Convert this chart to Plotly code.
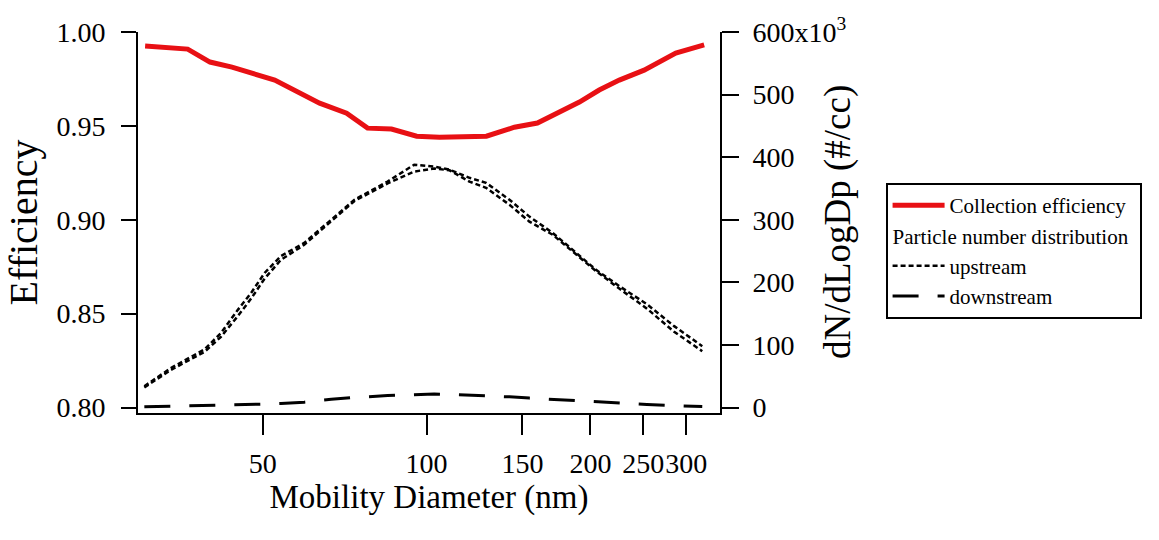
import plotly.graph_objects as go

# Collection efficiency vs mobility diameter
eff_dp = [30.4, 36.4, 40.0, 43.9, 52.6, 63.6, 71.3, 77.9, 86.2, 95.9, 105.6,
          128.8, 145.0, 159.8, 190.9, 207.6, 226.0, 251.0, 287.0, 323.6]
eff_val = [0.9925, 0.9909, 0.9840, 0.9813, 0.9744, 0.9621, 0.9568, 0.9488,
           0.9483, 0.9445, 0.9440, 0.9445, 0.9493, 0.9515, 0.9627, 0.9691,
           0.9744, 0.9797, 0.9888, 0.9931]

# Particle number size distributions (dN/dLogDp, #/cc)
size_dp = [30.3, 33.9, 39.1, 41.9, 45.0, 47.6, 50.4, 54.0, 59.6, 66.8, 73.7,
           84.8, 94.9, 103.3, 110.2, 119.9, 128.6, 142.0, 154.5, 170.5, 188.2,
           204.8, 226.0, 254.0, 285.0, 321.0]
upstream_a = [34e3, 63e3, 93e3, 119e3, 156e3, 183e3, 215e3, 242e3, 263e3,
              300e3, 332e3, 361e3, 388e3, 385e3, 380e3, 367e3, 359e3, 332e3,
              305e3, 279e3, 247e3, 220e3, 194e3, 165e3, 130e3, 98e3]
upstream_b = [32e3, 60e3, 89e3, 113e3, 146e3, 174e3, 206e3, 236e3, 260e3,
              297e3, 330e3, 358e3, 377e3, 382e3, 379e3, 361e3, 351e3, 324e3,
              297e3, 276e3, 245e3, 218e3, 190e3, 158e3, 121e3, 90e3]
downstream = [1.0e3, 1.8e3, 3.0e3, 3.6e3, 4.3e3, 4.8e3, 5.5e3, 6.5e3, 8.5e3,
              13e3, 16e3, 19e3, 21e3, 21.5e3, 21e3, 20e3, 19e3, 17e3, 15e3,
              13e3, 10.5e3, 8.5e3, 7e3, 4.8e3, 3e3, 1.5e3]

x_ticks = [50, 100, 150, 200, 250, 300]
x_ticktext = ["50", "100", "150", "200", "250", "300"]
eff_ticks = [0.80, 0.85, 0.90, 0.95, 1.00]
eff_ticktext = ["0.80", "0.85", "0.90", "0.95", "1.00"]
n_ticks = [0, 100e3, 200e3, 300e3, 400e3, 500e3, 600e3]
n_ticktext = ["0", "100", "200", "300", "400", "500", "600x10<sup>3</sup>"]

FONT = "Liberation Serif"
RED = "rgb(232,16,20)"

fig = go.Figure()

fig.add_trace(go.Scatter(
    x=eff_dp, y=eff_val, mode="lines", name="Collection efficiency",
    line=dict(color=RED, width=5), legendgroup="eff", yaxis="y"))

fig.add_trace(go.Scatter(
    x=size_dp, y=upstream_a, mode="lines", name="upstream",
    line=dict(color="black", width=2.5, dash="5px,3px"),
    legendgroup="pnd",
    legendgrouptitle=dict(text="Particle number distribution",
                          font=dict(family=FONT, size=21, color="black")),
    yaxis="y2"))
fig.add_trace(go.Scatter(
    x=size_dp, y=upstream_b, mode="lines", name="upstream",
    line=dict(color="black", width=2.5, dash="5px,3px"),
    legendgroup="pnd", showlegend=False, yaxis="y2"))
fig.add_trace(go.Scatter(
    x=size_dp, y=downstream, mode="lines", name="downstream",
    line=dict(color="black", width=3, dash="26px,19px"),
    legendgroup="pnd", yaxis="y2"))

axis_common = dict(showgrid=False, zeroline=False, showline=True,
                   linecolor="black", linewidth=2, ticks="outside",
                   tickcolor="black", tickwidth=2,
                   tickfont=dict(family=FONT, size=28, color="black"))

fig.update_layout(
    width=1159, height=540,
    margin=dict(l=138, r=439, t=32, b=127),
    paper_bgcolor="white", plot_bgcolor="white",
    font=dict(family=FONT, color="black"),
    showlegend=True,
    xaxis=dict(type="log", range=[1.4698, 2.5391],
               tickvals=x_ticks, ticktext=x_ticktext, ticklen=20,
               tickangle=0, ticklabelstandoff=4,
               title=dict(text="Mobility Diameter (nm)",
                          font=dict(family=FONT, size=33, color="black"),
                          standoff=0),
               **axis_common),
    yaxis=dict(range=[0.79707, 1.0], tickvals=eff_ticks,
               ticktext=eff_ticktext, ticklen=15, ticklabelstandoff=10,
               title=dict(text="Efficiency",
                          font=dict(family=FONT, size=40, color="black"),
                          standoff=6),
               **axis_common),
    yaxis2=dict(range=[-8790, 600000], overlaying="y", side="right",
                tickvals=n_ticks, ticktext=n_ticktext, ticklen=17,
                ticklabelstandoff=8, **axis_common),
    legend=dict(x=1.2845, y=0.6037, xanchor="left", yanchor="top",
                bgcolor="white", bordercolor="black", borderwidth=2,
                traceorder="grouped", tracegroupgap=0, itemwidth=52,
                font=dict(family=FONT, size=21, color="black")),
    annotations=[dict(text="dN/dLogDp (#/cc)", textangle=-90,
                      xref="paper", yref="paper", x=1.2027, y=0.501,
                      xanchor="center", yanchor="middle", showarrow=False,
                      font=dict(family=FONT, size=37, color="black"))],
)

fig.write_html("out.html")
